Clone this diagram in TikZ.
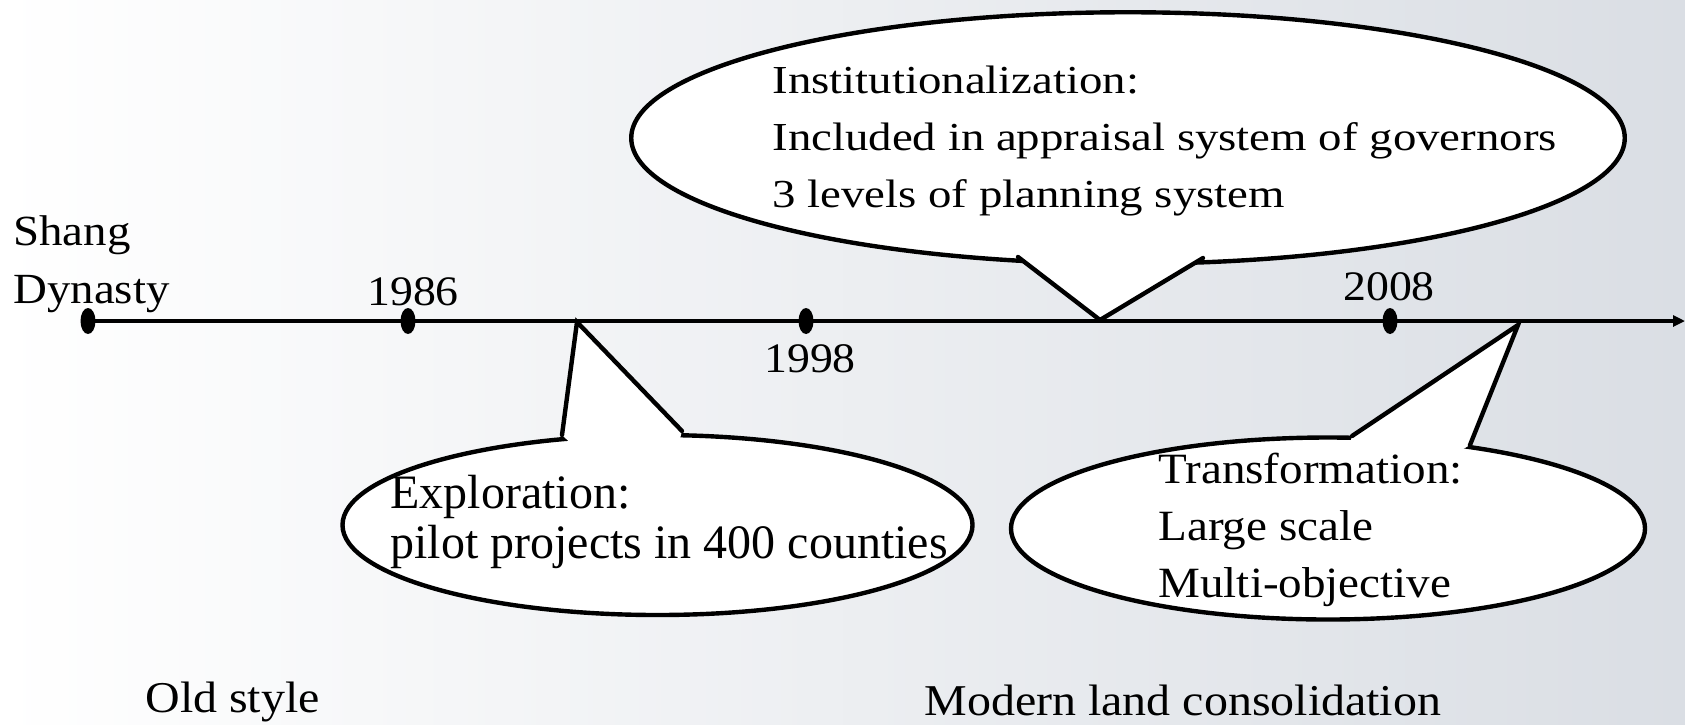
\documentclass[tikz,border=0pt]{standalone}
\usepackage{fontspec}
\setmainfont{Liberation Serif}[FakeStretch=1.09]
\newfontfamily\wideserif{Liberation Serif}[FakeStretch=1.18]
\newfontfamily\plainserif{Liberation Serif}
\usetikzlibrary{shapes.geometric,arrows.meta,calc}

\definecolor{bgmid}{RGB}{240,243,247}
\definecolor{bgright}{RGB}{218,222,228}

\tikzset{
  label text/.style={inner sep=0pt, anchor=base west, align=left, font=\fontsize{21.5}{29}\selectfont},
  year/.style={inner sep=0pt, anchor=base, font=\fontsize{21}{25}\selectfont},
  era/.style={inner sep=0pt, anchor=base west, font=\fontsize{22}{26}\selectfont},
  yeardot/.style={ellipse, fill=black, inner sep=0pt, minimum width=7.5pt, minimum height=13pt},
  bubble/.style={ellipse, draw=black, fill=white, line width=2.2pt, inner sep=0pt},
  tailline/.style={draw=black, line width=2.2pt, line cap=round},
  timeline/.style={line width=1.8pt, -{Triangle[length=6pt,width=5.5pt]}}
}

\begin{document}
\begin{tikzpicture}[x=0.5pt,y=-0.5pt]
  % page and background
  \useasboundingbox (0,0) rectangle (1685,724);
  \shade[left color=white, middle color=bgmid, right color=bgright] (0,0) rectangle (1685,724);

  % Timeline
  \coordinate (tStart) at (88,321);
  \coordinate (tEnd) at (1685,321);
  \draw[timeline] (tStart) -- (tEnd);

  % year dots
  \node[yeardot] (shang) at (88,321) {};
  \node[yeardot] (y1986) at (408,321) {};
  \node[yeardot] (y1998) at (806,321) {};
  \node[yeardot] (y2008) at (1390,321) {};

  % year labels (multi-line texts sit on their last baseline)
  \node[label text] (shangLabel) at (13,303) {Shang\\Dynasty};
  \node[year] (lab1986) at (413,305) {1986};
  \node[year] (lab1998) at (810,372) {1998};
  \node[year] (lab2008) at (1389,300) {2008};

  % Exploration bubble
  \node[bubble, minimum width=315pt, minimum height=90pt] (expl) at (657.5,525) {};
  \coordinate (explL) at (562,435);
  \coordinate (explR) at (682,431);
  \coordinate (explTip) at (577,322);
  \fill[white] (explL) -- (explTip) -- (explR) -- ($(explR)!5pt!(expl.center)$) -- ($(explL)!5pt!(expl.center)$) -- cycle;
  \draw[tailline] (explL) -- (explTip) -- (explR);
  \node[label text, font=\plainserif\fontsize{24}{25}\selectfont] (explText) at (390,558)
    {Exploration:\\pilot projects in 400 counties};

  % Institutionalization bubble
  \node[bubble, minimum width=496.75pt, minimum height=125.75pt] (inst) at (1128,138) {};
  \coordinate (instL) at (1018,257);
  \coordinate (instR) at (1203,258);
  \coordinate (instTip) at (1100,320);
  \fill[white] (instL) -- (instTip) -- (instR) -- ($(instR)!5pt!(inst.center)$) -- ($(instL)!5pt!(inst.center)$) -- cycle;
  \draw[tailline] (instL) -- (instTip) -- (instR);
  \node[label text, font=\wideserif\fontsize{19.85}{28.5}\selectfont] (instText) at (772,207)
    {Institutionalization:\\Included in appraisal system of governors\\3 levels of planning system};

  % Transformation bubble
  \node[bubble, minimum width=317pt, minimum height=91pt] (trans) at (1328,528.5) {};
  \coordinate (transL) at (1352,436);
  \coordinate (transR) at (1470,445);
  \coordinate (transTip) at (1518,325);
  \fill[white] (transL) -- (transTip) -- (transR) -- ($(transR)!5pt!(trans.center)$) -- ($(transL)!5pt!(trans.center)$) -- cycle;
  \draw[tailline] (transL) -- (transTip) -- (transR);
  \node[label text, font=\fontsize{21.6}{28.5}\selectfont] (transText) at (1158,597)
    {Transformation:\\Large scale\\Multi-objective};

  % era labels
  \node[era] (oldStyle) at (145,712) {Old style};
  \node[era] (modern) at (924,715) {Modern land consolidation};
\end{tikzpicture}
\end{document}
